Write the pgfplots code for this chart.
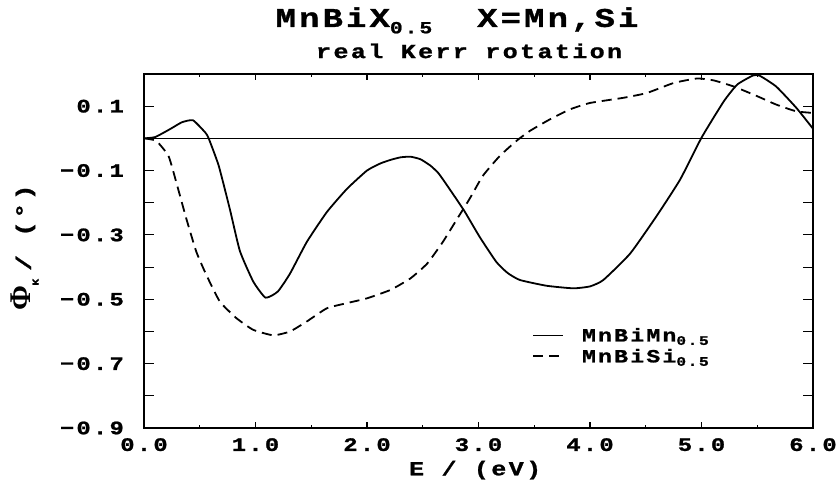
\documentclass[border=0pt]{standalone}
\usepackage{fontspec}
\setmainfont{Liberation Mono}[BoldFont={Liberation Mono Bold}, BoldFeatures={FakeBold=1.2}, FakeStretch=1.25, LetterSpace=12]
\newfontfamily\phifont{Liberation Serif}[BoldFont={Liberation Serif Bold}]
\usepackage{pgfplots}
\pgfplotsset{compat=1.18}
\newcommand\tickfont{\bfseries\fontsize{19}{21}\selectfont}
\newcommand\sub[1]{\raisebox{-0.35ex}{\fontsize{13}{14}\selectfont #1}}
\begin{document}
\begin{tikzpicture}
\path[use as bounding box] (-144pt,-53pt) rectangle (693pt,428pt);
\begin{axis}[
  at={(0,0)}, anchor=south west, scale only axis,
  width=669pt, height=354pt,
  xmin=0, xmax=6, ymin=-0.9, ymax=0.2,
  axis line style={line width=1.6pt},
  tick align=inside,
  xtick={0,1,2,3,4,5,6},
  xticklabels={0.0,1.0,2.0,3.0,4.0,5.0,6.0},
  minor xtick={0.5,1.5,2.5,3.5,4.5,5.5},
  ytick={-0.9,-0.8,-0.7,-0.6,-0.5,-0.4,-0.3,-0.2,-0.1,0,0.1},
  yticklabels={−0.9,,−0.7,,−0.5,,−0.3,,−0.1,,0.1},
  major tick length=6pt, minor tick length=3pt,
  ytick style={/pgfplots/major tick length=10pt},
  tick style={line width=1.1pt, black},
  xtick pos=both, ytick pos=both,
  /pgf/number format/assume math mode=true,
  tick label style={font=\tickfont},
  xticklabel style={inner sep=0pt, anchor=north, yshift=-10pt},
  yticklabel style={inner sep=0pt, anchor=east, xshift=-20pt},
  xlabel={E / (eV)},
  xlabel style={font=\bfseries\fontsize{20}{22}\selectfont, at={(axis description cs:0.495,-0.119)}, anchor=center, inner sep=0pt},
  ylabel={{\phifont\bfseries\fontsize{30}{32}\selectfont Φ}\raisebox{-0.7ex}{\fontsize{9}{10}\selectfont K}\hspace{8pt}/ (°)},
  ylabel style={font=\bfseries\fontsize{21}{23}\selectfont, at={(axis description cs:-0.178,0.51)}, anchor=center, inner sep=0pt},
  legend style={draw=none, fill=none, at={(axis cs:3.48,-0.645)}, anchor=west,
    font=\bfseries\fontsize{18.5}{20}\selectfont, row sep=6pt, column sep=18pt,
    nodes={inner sep=0pt}, inner sep=0pt},
  legend cell align=left,
  legend image code/.code={\draw[#1] (0pt,0pt) -- (30pt,0pt);},
  clip=false,
]
\addplot[black, line width=1.8pt, line join=round, smooth, tension=0.3] coordinates {
(0,0) (0.1,0.004) (0.23,0.028) (0.34,0.05) (0.44,0.056) (0.55,0.018) (0.58,0) (0.67,-0.085) (0.77,-0.22) (0.86,-0.35) (0.98,-0.445) (1.09,-0.495) (1.2,-0.476) (1.31,-0.42) (1.46,-0.322) (1.64,-0.229) (1.82,-0.157) (2.0,-0.10) (2.12,-0.078) (2.21,-0.067) (2.3,-0.059) (2.39,-0.057) (2.48,-0.065) (2.57,-0.085) (2.64,-0.108) (2.71,-0.142) (2.87,-0.224) (3.01,-0.306) (3.16,-0.384) (3.26,-0.418) (3.37,-0.44) (3.61,-0.458) (3.85,-0.466) (4.0,-0.46) (4.12,-0.44) (4.36,-0.358) (4.6,-0.24) (4.81,-0.127) (5.0,0.002) (5.2,0.115) (5.32,0.167) (5.46,0.195) (5.52,0.195) (5.67,0.161) (5.85,0.095) (6.0,0.03)
};
\addlegendentry{MnBiMn\sub{0.5}}
\addplot[black, line width=1.8pt, line join=round, smooth, tension=0.3, dash pattern=on 10pt off 6pt] coordinates {
(0,0) (0.11,-0.008) (0.22,-0.055) (0.29,-0.137) (0.38,-0.25) (0.47,-0.353) (0.56,-0.425) (0.68,-0.507) (0.83,-0.559) (0.98,-0.595) (1.16,-0.612) (1.31,-0.60) (1.46,-0.569) (1.64,-0.528) (1.82,-0.512) (2.0,-0.497) (2.21,-0.471) (2.39,-0.435) (2.54,-0.389) (2.68,-0.322) (2.8,-0.255) (2.92,-0.188) (3.04,-0.116) (3.19,-0.055) (3.34,-0.008) (3.46,0.023) (3.64,0.059) (3.82,0.09) (4.0,0.11) (4.3,0.126) (4.51,0.141) (4.75,0.172) (4.96,0.186) (5.11,0.18) (5.29,0.161) (5.5,0.131) (5.67,0.105) (5.85,0.084) (6.0,0.079)
};
\addlegendentry{MnBiSi\sub{0.5}}
\addplot[black, line width=1.3pt, forget plot] coordinates {(0,0) (6,0)};
\node[font=\bfseries\fontsize{27}{30}\selectfont, anchor=base, inner sep=0pt]
  at (axis description cs:0.468,1.133) {MnBiX\raisebox{-0.45ex}{\fontsize{17}{18}\selectfont 0.5}\hspace{45pt}X=Mn,Si};
\node[font=\bfseries\fontsize{20}{22}\selectfont, anchor=base, inner sep=0pt]
  at (axis description cs:0.486,1.045) {real Kerr rotation};
\end{axis}
\end{tikzpicture}
\end{document}
